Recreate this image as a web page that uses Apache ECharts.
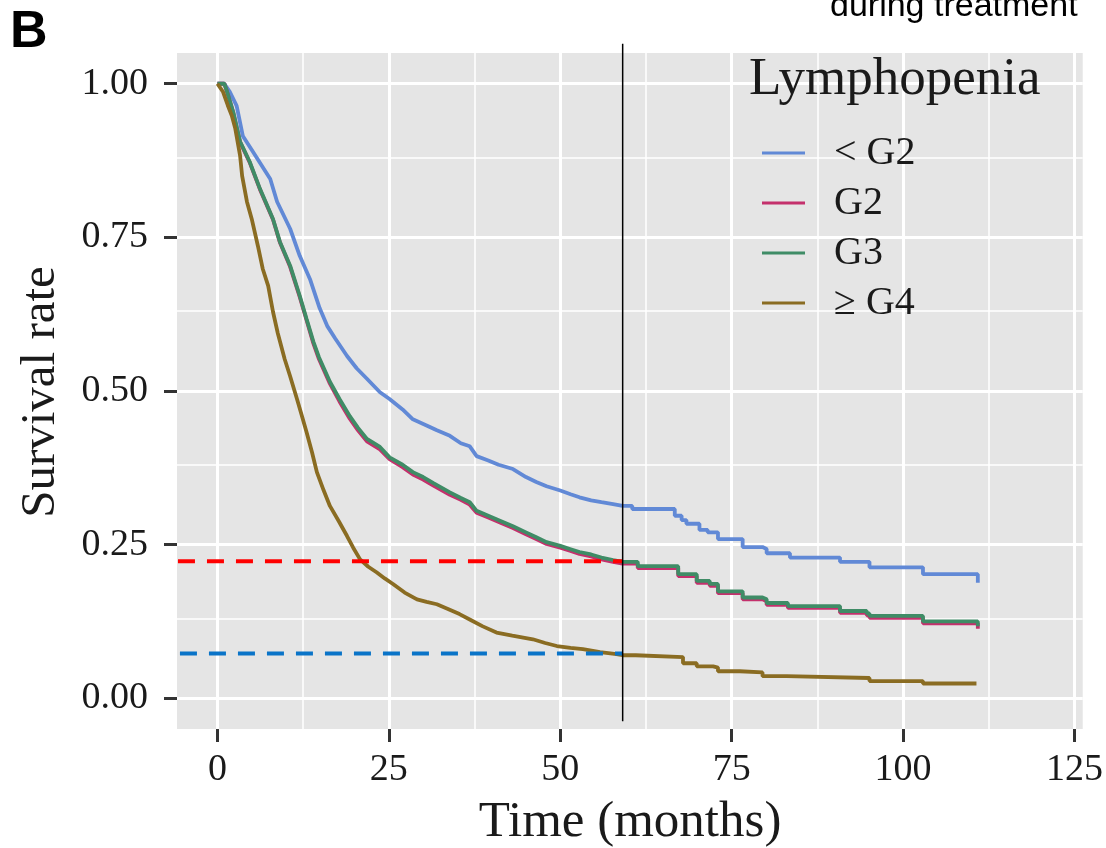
<!DOCTYPE html>
<html>
<head>
<meta charset="utf-8">
<script src="https://cdn.jsdelivr.net/npm/echarts@6.0.0/dist/echarts.min.js"></script>
<style>html,body{margin:0;padding:0;background:#fff;}#chart{width:1106px;height:848px;}</style>
</head>
<body>
<div id="chart"></div>
<script>
// ---- Data (time in months, survival rate) ----
const seriesNames = ['< G2', 'G2', 'G3', '≥ G4'];
const xTicks = [0, 25, 50, 75, 100, 125];
const xMinor = [12.5, 37.5, 62.5, 87.5, 112.5];
const yTicks = [0, 0.25, 0.5, 0.75, 1];
const yMinor = [0.125, 0.375, 0.625, 0.875];

const lessG2 = [[0,1],[1,1],[1.8,0.987],[2.8,0.964],[3.7,0.915],[5.2,0.889],[7.7,0.845],[8.7,0.808],[10.6,0.764],[12,0.72],[13.5,0.682],[14.9,0.635],[16,0.606],[17.2,0.585],[18.9,0.557],[20.3,0.537],[21.8,0.52],[23.7,0.498],[25.1,0.487],[27,0.47],[28.5,0.454],[30.5,0.444],[32,0.436],[33.9,0.427],[35.5,0.415],[36.8,0.41],[37.8,0.394],[39.5,0.387],[41,0.38],[43.1,0.373],[45,0.36],[46.5,0.352],[48,0.345],[50,0.338],[51.5,0.332],[52.8,0.327],[54.5,0.322],[56,0.319],[57.7,0.316],[59.1,0.313],[60.5,0.308],[66.7,0.297],[67.7,0.29],[68.4,0.284],[70.3,0.274],[71.5,0.27],[73,0.259],[76.6,0.246],[79.5,0.243],[80.1,0.236],[83.5,0.229],[90.8,0.222],[95.1,0.213],[102.9,0.202],[110.9,0.188]];
const g2 = [[0,1],[1,1],[1.4,0.987],[2.3,0.953],[3.3,0.905],[4.7,0.872],[6.2,0.828],[8.1,0.779],[9.1,0.742],[10.6,0.702],[12,0.653],[13,0.615],[14,0.577],[14.8,0.552],[16.4,0.512],[17.8,0.483],[19.3,0.455],[20.5,0.436],[21.8,0.418],[23.7,0.405],[25.1,0.389],[27,0.376],[28.5,0.364],[30,0.356],[31.5,0.346],[33.9,0.331],[35.5,0.323],[36.8,0.315],[37.8,0.302],[39.5,0.294],[41.2,0.286],[43.1,0.277],[45,0.267],[46.5,0.259],[48,0.251],[50,0.245],[51.4,0.24],[52.8,0.235],[54.5,0.231],[56,0.226],[57.7,0.222],[59.1,0.219],[61.3,0.212],[67.2,0.199],[69.9,0.188],[71.8,0.183],[73,0.171],[76.6,0.161],[79.5,0.158],[80.1,0.152],[83.2,0.147],[90.8,0.139],[94.7,0.135],[95.1,0.131],[102.9,0.122],[110.9,0.113]];
const g3 = [[0,1],[1,1],[1.4,0.987],[2.3,0.954],[3.3,0.906],[4.7,0.873],[6.2,0.829],[8.1,0.78],[9.1,0.743],[10.6,0.704],[12,0.655],[13,0.617],[14,0.58],[14.8,0.555],[16.4,0.515],[17.8,0.487],[19.3,0.459],[20.5,0.44],[21.8,0.422],[23.7,0.409],[25.1,0.392],[27,0.38],[28.5,0.368],[30,0.36],[31.5,0.35],[33.9,0.335],[35.5,0.326],[36.8,0.319],[37.8,0.305],[39.5,0.297],[41.2,0.289],[43.1,0.28],[45,0.27],[46.5,0.262],[48,0.254],[50,0.248],[51.4,0.243],[52.8,0.238],[54.5,0.234],[56,0.229],[57.7,0.225],[59.1,0.222],[61.3,0.215],[67.2,0.202],[69.9,0.191],[71.8,0.186],[73,0.174],[76.6,0.164],[79.5,0.161],[80.1,0.155],[83.2,0.15],[90.8,0.142],[94.7,0.138],[95.1,0.134],[102.9,0.125],[110.9,0.117]];
const geG4 = [[0,1],[0.8,0.987],[1.5,0.965],[2.1,0.948],[2.6,0.927],[3.3,0.883],[3.6,0.85],[4.3,0.808],[5,0.78],[5.9,0.736],[6.6,0.699],[7.4,0.671],[8.1,0.629],[8.8,0.594],[9.8,0.552],[10.6,0.524],[11.6,0.487],[12.3,0.46],[13,0.433],[13.8,0.4],[14.5,0.368],[15.5,0.338],[16.4,0.313],[17.7,0.288],[18.9,0.264],[19.8,0.245],[20.8,0.226],[22,0.214],[23.2,0.205],[24.4,0.195],[25.6,0.186],[27.3,0.172],[29.1,0.161],[30.5,0.157],[32,0.153],[33.7,0.145],[35.3,0.137],[37,0.127],[38.7,0.117],[40.7,0.107],[43,0.102],[46,0.096],[47.8,0.09],[49.5,0.085],[51.5,0.082],[53.3,0.08],[55.8,0.075],[58.2,0.072],[59.1,0.07],[61,0.067],[67.9,0.057],[69.9,0.052],[72.3,0.05],[73,0.044],[76.2,0.042],[79.5,0.036],[83,0.033],[95.1,0.028],[102.9,0.024],[110.7,0.024]];
const stepFrom = 59.1; // after this time the reference shows distinct KM steps

const redRef = [[-5.76,0.223],[59.1,0.223]];
const blueRef = [[-5.47,0.073],[59.1,0.073]];
const vLine = [[59.1,-0.0375],[59.1,1.065]];

// ---- Chart ----
const serif = 'Liberation Serif';
const colors = ['#6189d6', '#c4306c', '#3f8c66', '#8a6c22'];
const chart = echarts.init(document.getElementById('chart'), null, {renderer: 'canvas'});

function gridLines(vals, axis, width) {
  return vals.map(v => ({[axis]: v, lineStyle: {color: '#ffffff', width: width, type: 'solid'}}));
}

const kmSeries = [];
[lessG2, g2, g3, geG4].forEach((d, i) => {
  const base = {name: seriesNames[i], type: 'line', symbol: 'none',
    lineStyle: {width: 3.8, color: colors[i]}, itemStyle: {color: colors[i]}, z: 5 + i};
  kmSeries.push(Object.assign({}, base, {data: d.filter(p => p[0] <= stepFrom)}));
  kmSeries.push(Object.assign({}, base, {data: d.filter(p => p[0] >= stepFrom), step: 'end'}));
});

const axisCommon = {
  axisLine: {show: true, onZero: false, lineStyle: {color: 'rgba(0,0,0,0)', width: 0}},
  splitLine: {show: false}
};

chart.setOption({
  animation: false,
  backgroundColor: '#ffffff',
  grid: {left: 177, top: 53, right: 23, bottom: 119, show: true, backgroundColor: '#e5e5e5', borderWidth: 0},
  xAxis: Object.assign({
    type: 'value', min: -5.9, max: 126.2,
    axisTick: {show: true, inside: false, customValues: xTicks, length: 13, lineStyle: {color: '#333', width: 3}},
    axisLabel: {customValues: xTicks, margin: 22, fontFamily: serif, fontSize: 38, color: '#1a1a1a'}
  }, axisCommon),
  yAxis: Object.assign({
    type: 'value', min: -0.05, max: 1.05,
    axisTick: {show: true, inside: false, customValues: yTicks, length: 13, lineStyle: {color: '#333', width: 3}},
    axisLabel: {customValues: yTicks, margin: 29, fontFamily: serif, fontSize: 38, color: '#1a1a1a', formatter: v => v.toFixed(2)}
  }, axisCommon),
  legend: {
    data: seriesNames, orient: 'vertical', left: 757, top: 128, z: 50,
    icon: 'rect', itemWidth: 43, itemHeight: 3, itemGap: 10,
    textStyle: {fontFamily: serif, fontSize: 40, color: '#1a1a1a', lineHeight: 40, padding: [0, 0, 0, 24]},
    selectedMode: false
  },
  graphic: [
    {type: 'text', z: 100, left: 10, top: 7, style: {text: 'B', font: 'bold 52px "Liberation Sans"', fill: '#000'}},
    {type: 'text', z: 100, x: 830, y: -10, style: {text: 'during treatment', font: '34px "Liberation Sans"', fill: '#000', verticalAlign: 'top'}},
    {type: 'text', z: 100, x: 749, y: 80, style: {text: 'Lymphopenia', font: '53px "Liberation Serif"', fill: '#1a1a1a', verticalAlign: 'middle'}},
    {type: 'text', z: 100, x: 630, y: 823, style: {text: 'Time (months)', font: '51px "Liberation Serif"', fill: '#1a1a1a', align: 'center', verticalAlign: 'middle'}},
    {type: 'text', z: 100, x: 41, y: 392, rotation: Math.PI / 2, style: {text: 'Survival rate', font: '49px "Liberation Serif"', fill: '#1a1a1a', align: 'center', verticalAlign: 'middle'}}
  ],
  series: [
    {type: 'line', data: [], silent: true, z: 1,
      markLine: {silent: true, symbol: ['none', 'none'], label: {show: false}, animation: false,
        data: [].concat(gridLines(xMinor, 'xAxis', 1.5), gridLines(yMinor, 'yAxis', 1.5), gridLines(xTicks, 'xAxis', 3), gridLines(yTicks, 'yAxis', 3))}},
    ...kmSeries,
    {type: 'line', data: redRef, symbol: 'none', silent: true, z: 10, lineStyle: {color: '#ff0000', width: 4, type: [17, 12]}},
    {type: 'line', data: blueRef, symbol: 'none', silent: true, z: 10, lineStyle: {color: '#0a74c8', width: 4, type: [17, 12]}},
    {type: 'line', data: vLine, symbol: 'none', silent: true, z: 11, clip: false, lineStyle: {color: '#000', width: 1.5}}
  ]
});
</script>
</body>
</html>
